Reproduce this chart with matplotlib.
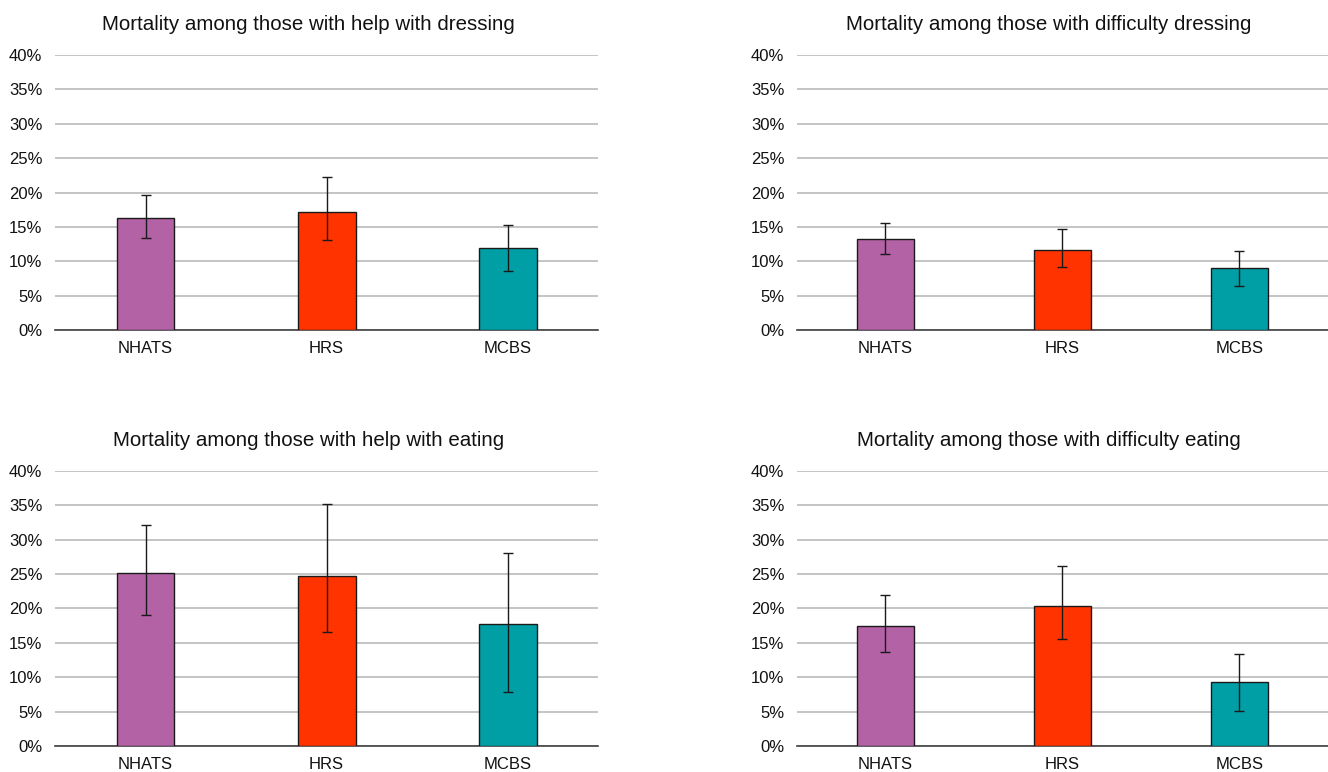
import numpy as np
import matplotlib
matplotlib.use('Agg')
import matplotlib.pyplot as plt
from matplotlib.ticker import PercentFormatter

plt.rcParams['font.family'] = ['Liberation Sans', 'DejaVu Sans']

surveys = ['NHATS', 'HRS', 'MCBS']
colors = ['#B462A6', '#FF3300', '#009FA5']

titles = ['Mortality among those with help with dressing',
          'Mortality among those with difficulty dressing',
          'Mortality among those with help with eating',
          'Mortality among those with difficulty eating']

# values in percent
help_dressing = [16.3, 17.2, 12.0]
help_dressing_lo = [13.4, 13.1, 8.6]
help_dressing_hi = [19.7, 22.2, 15.3]

diff_dressing = [13.2, 11.7, 9.0]
diff_dressing_lo = [11.1, 9.2, 6.4]
diff_dressing_hi = [15.5, 14.7, 11.5]

help_eating = [25.1, 24.7, 17.8]
help_eating_lo = [19.1, 16.6, 7.8]
help_eating_hi = [32.1, 35.2, 28.0]

diff_eating = [17.5, 20.3, 9.3]
diff_eating_lo = [13.7, 15.5, 5.1]
diff_eating_hi = [21.9, 26.2, 13.4]

panels = [
    (help_dressing, help_dressing_lo, help_dressing_hi),
    (diff_dressing, diff_dressing_lo, diff_dressing_hi),
    (help_eating, help_eating_lo, help_eating_hi),
    (diff_eating, diff_eating_lo, diff_eating_hi),
]

fig = plt.figure(figsize=(13.28, 7.72), dpi=100)

# axes rects [left, bottom, width, height]
rects = [
    [0.0414, 0.5725, 0.409, 0.3562],
    [0.600, 0.5725, 0.400, 0.3562],
    [0.0414, 0.0337, 0.409, 0.3562],
    [0.600, 0.0337, 0.400, 0.3562],
]
# title centre in axes fraction (titles sit over the whole chart incl. labels)
title_x = [0.466, 0.475, 0.466, 0.475]

x = np.arange(len(surveys))

for i, (vals, lo, hi) in enumerate(panels):
    ax = fig.add_axes(rects[i])
    vals = np.array(vals)
    yerr = np.array([vals - np.array(lo), np.array(hi) - vals])
    ax.bar(x, vals, width=0.32, color=colors, edgecolor='#1a1a1a',
           linewidth=1.0, zorder=3)
    ax.errorbar(x, vals, yerr=yerr, fmt='none', ecolor='#1a1a1a',
                elinewidth=1.0, capsize=3.5, capthick=1.0, zorder=4)

    ax.set_xlim(-0.5, 2.5)
    ax.set_ylim(0, 40)
    ax.set_yticks(np.arange(0, 41, 5))
    ax.yaxis.set_major_formatter(PercentFormatter(decimals=0))
    ax.set_xticks(x)
    ax.set_xticklabels(surveys)
    ax.grid(axis='y', color='#BABABA', linewidth=1.2, zorder=0)
    ax.set_axisbelow(True)
    for s in ['top', 'right', 'left']:
        ax.spines[s].set_visible(False)
    ax.spines['bottom'].set_color('#404040')
    ax.spines['bottom'].set_linewidth(1.2)
    ax.tick_params(axis='both', length=0, labelsize=12, colors='#111111')
    ax.tick_params(axis='y', pad=9)
    ax.tick_params(axis='x', pad=8)
    ax.set_title(titles[i], fontsize=14.8, pad=18, color='#111111',
                 x=title_x[i])

fig.savefig('out.png', dpi=100)
